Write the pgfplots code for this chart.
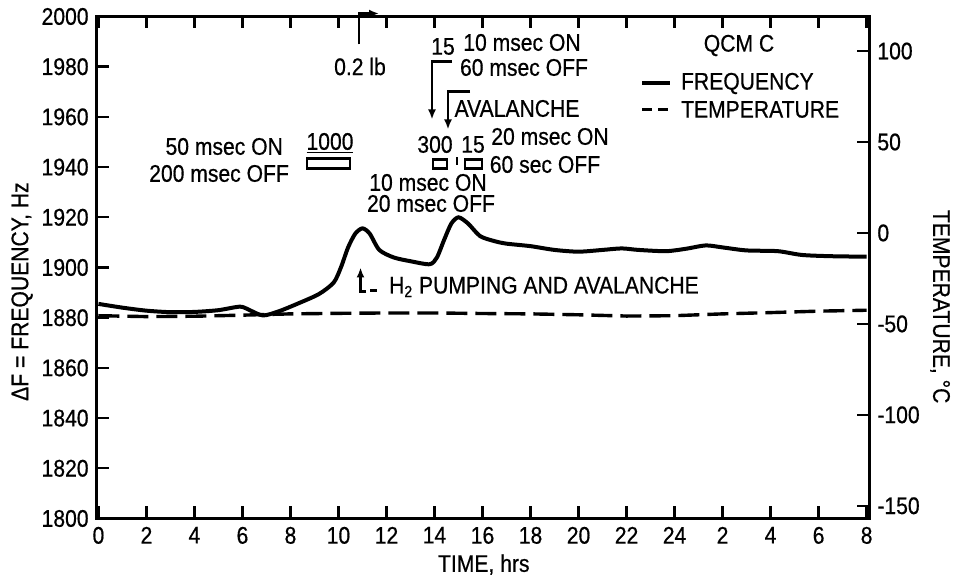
\documentclass[border=0pt]{standalone}
\usepackage{fontspec}
\setmainfont{Liberation Sans}[FakeStretch=0.88, FakeBold=0.6]
\usepackage{pgfplots}
\pgfplotsset{compat=1.18}
\usetikzlibrary{arrows.meta}

% pixel frame of the reference: axis box from (97,15) to (869,517)
\pgfplotsset{
  every axis/.append style={
    scale only axis, width=386pt, height=251pt,
    at={(0,0)}, anchor=south west,
    xmin=-0.06, xmax=32.1,
    axis line style={line width=1.5pt},
    major tick length=6pt,
    every tick/.style={black, line width=1.2pt},
    tick align=inside,
  },
}

\begin{document}
\fontsize{12}{14}\selectfont
\begin{tikzpicture}
\begin{scope}[shift={(-48.5pt,258.5pt)}, x=0.5pt, y=-0.5pt]
  \useasboundingbox (0,0) rectangle (959,582);
\end{scope}

\begin{axis}[
    ymin=1800, ymax=2000,
    xtick={0,2,...,32},
    xticklabels={0,2,4,6,8,10,12,14,16,18,20,22,24,2,4,6,8},
    xtick pos=both, xticklabel pos=bottom,
    ytick={1800,1820,...,2000},
    yticklabels={1800,1820,1840,1860,1880,1900,1920,1940,1960,1980,2000},
    ytick pos=left,
    xlabel={TIME, hrs},
    ylabel={ΔF = FREQUENCY, Hz},
    xlabel style={at={(rel axis cs:0.501,-0.092)}, anchor=center},
    ylabel style={at={(rel axis cs:-0.097,0.452)}, anchor=center},
  ]
  % frequency
  \addplot[line width=2pt, smooth, tension=0.45] coordinates {
    (0,1885.5) (1,1884) (2,1882.8) (3,1882.2) (4,1882.3) (5,1883)
    (5.9,1884.4) (6.3,1883) (6.85,1880.9) (7.5,1882.5) (8.4,1886)
    (9.2,1889.5) (9.8,1894) (10.1,1900) (10.4,1908) (10.7,1913.5)
    (11.0,1915.6) (11.3,1913.5) (11.7,1907) (12.3,1904) (13.0,1902.5)
    (13.8,1901.3) (14.1,1904) (14.4,1911) (14.7,1917.5) (15.0,1920)
    (15.4,1917.5) (15.9,1912.5) (16.5,1910.5) (17.0,1909.5) (18.0,1908.5)
    (19.0,1907) (20.0,1906.3) (21.0,1907) (21.8,1907.6) (22.5,1907)
    (23.65,1906.5) (24.5,1907.5) (25.3,1908.8) (26.0,1908) (27.0,1906.8)
    (28.3,1906.5) (29.3,1905) (30.5,1904.5) (32,1904.3)
  };
\end{axis}

\begin{axis}[
    axis x line=none, axis y line*=right,
    ymin=-157, ymax=119,
    ytick={-150,-100,...,100},
    yticklabels={-150,-100,-50,0,50,100},
    ylabel={TEMPERATURE, °C},
    ylabel style={at={(rel axis cs:1.092,0.422)}, anchor=center, rotate=180},
  ]
  % temperature
  \addplot[line width=1.7pt, dash pattern=on 10.5pt off 4pt] coordinates {
    (0,-45.5) (2,-46) (4,-45.8) (6,-45.2) (8,-44.5) (10,-44.2) (12,-44)
    (14,-44) (16,-44.3) (18,-44.5) (20,-45) (22,-45.7) (24,-45.5)
    (26,-44.5) (28,-43.8) (30,-43) (32,-42.5)
  };
\end{axis}

% annotations, in reference pixel coordinates
\begin{scope}[shift={(-48.5pt,258.5pt)}, x=0.5pt, y=-0.5pt,
    line width=1.1pt, >={Latex[length=5pt,width=4pt]}]
  % 0.2 lb
  \draw[->] (359,43) -- (359,12) -- (379,12);
  \node at (360,65) {0.2 lb};
  % 15 / 10 msec ON / 60 msec OFF
  \node at (443,45) {15};
  \node at (522,41) {10 msec ON};
  \node at (524,66) {60 msec OFF};
  \draw[->] (452,60) -- (432,60) -- (432,118);
  % avalanche
  \draw[->] (470,90) -- (448,90) -- (448,128);
  \node at (517,107) {AVALANCHE};
  \node at (435,143) {300};
  \node at (473,143) {15};
  \node at (550,135) {20 msec ON};
  \node at (545,163) {60 sec OFF};
  \draw (433,158) rectangle (447,167);
  \draw (465,158) rectangle (482,167);
  \draw (457,156) -- (457,164);
  % 1000
  \node at (330,142) {\underline{1000}};
  \draw (307,157) rectangle (350,167);
  \node[anchor=east] at (292,145) {50 msec ON};
  \node[anchor=east] at (298,172) {200 msec OFF};
  \node at (428,181) {10 msec ON};
  \node at (431,202) {20 msec OFF};
  % H2 pumping
  \draw[->] (366,290) -- (360.5,290) -- (360.5,266);
  \draw (370,289) -- (377,289);
  \node[anchor=base west, inner sep=0pt] at (388,292) {H\textsubscript{2} PUMPING AND AVALANCHE};
  % legend
  \node at (739,44) {QCM C};
  \draw[line width=2pt] (642,82) -- (670,82);
  \node[anchor=west, inner sep=0pt] at (680,82) {FREQUENCY};
  \draw[line width=1.7pt, dash pattern=on 5pt off 3pt] (642,108) -- (671,108);
  \node[anchor=west, inner sep=0pt] at (680,108) {TEMPERATURE};
\end{scope}
\end{tikzpicture}
\end{document}
